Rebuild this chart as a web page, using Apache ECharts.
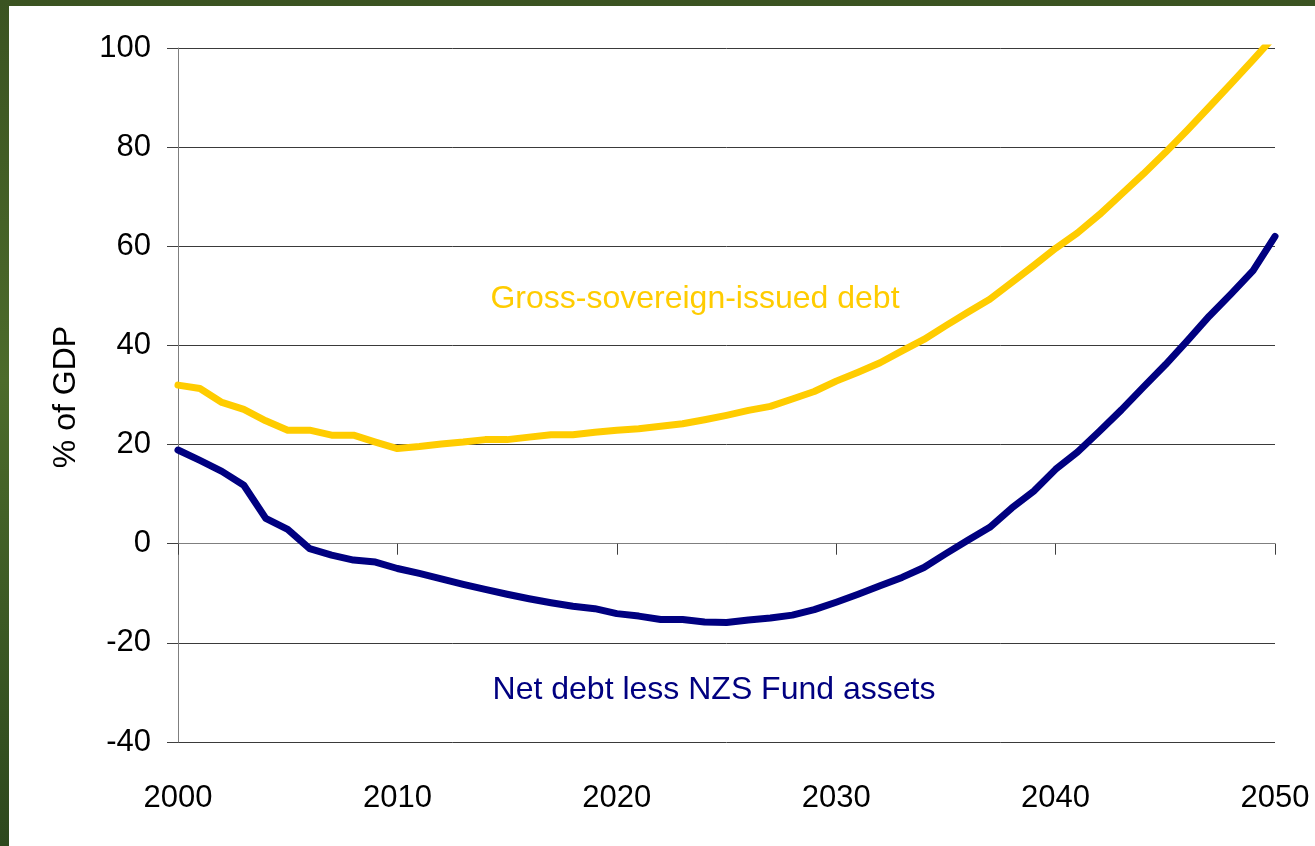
<!DOCTYPE html>
<html>
<head>
<meta charset="utf-8">
<script src="https://cdn.jsdelivr.net/npm/echarts@6/dist/echarts.min.js"></script>
<style>
  html, body { margin: 0; padding: 0; width: 1315px; height: 846px; overflow: hidden; }
  body { background: linear-gradient(to bottom, #3b5321 0%, #4c6b2b 45%, #2d481d 100%); position: relative; }
  #chart { position: absolute; left: 9px; top: 6px; width: 1306px; height: 840px; background: #ffffff; }
</style>
</head>
<body>
<div id="chart"></div>
<script>
// Projected debt paths, % of GDP, 2000-2050
const years = [];
for (let y = 2000; y <= 2050; y++) years.push(y);

const grossDebt = [
  32.0, 31.3, 28.5, 27.1, 24.8, 22.9, 22.9, 21.9, 21.9, 20.5,
  19.2, 19.6, 20.1, 20.5, 21.0, 21.0, 21.5, 22.0, 22.0, 22.5,
  22.9, 23.2, 23.7, 24.2, 25.0, 25.9, 26.9, 27.7, 29.2, 30.7,
  32.8, 34.6, 36.5, 38.9, 41.2, 44.0, 46.7, 49.3, 52.7, 56.1,
  59.6, 62.7, 66.4, 70.5, 74.6, 78.9, 83.4, 88.1, 92.8, 97.6,
  102.5
];

const netDebt = [
  18.9, 16.8, 14.6, 11.8, 5.1, 2.9, -1.0, -2.3, -3.3, -3.7,
  -5.0, -6.0, -7.1, -8.2, -9.2, -10.2, -11.1, -11.9, -12.6, -13.1,
  -14.1, -14.6, -15.3, -15.3, -15.8, -15.9, -15.4, -15.0, -14.4, -13.3,
  -11.8, -10.2, -8.5, -6.8, -4.8, -2.0, 0.7, 3.3, 7.2, 10.6,
  15.0, 18.5, 22.7, 27.0, 31.6, 36.1, 40.9, 45.9, 50.4, 55.1,
  62.0
];

const yTicks = { min: -40, max: 100, step: 20 };
const xTicks = { min: 2000, max: 2050, step: 10 };

const grossLabel = 'Gross-sovereign-issued debt';
const netLabel = 'Net debt less NZS Fund assets';
const yTitle = '% of GDP';

const FONT = '"Liberation Sans", Arial, sans-serif';

const chart = echarts.init(document.getElementById('chart'), null, { renderer: 'canvas' });

const pairs = (vals) => years.map((y, i) => [y, vals[i]]);

chart.setOption({
  animation: false,
  backgroundColor: '#ffffff',
  grid: { left: 169, right: 40, top: 42, bottom: 104, containLabel: false },
  xAxis: [
    {
      // year labels along the bottom of the plot
      type: 'value',
      min: xTicks.min, max: xTicks.max, interval: xTicks.step,
      position: 'bottom',
      axisLine: { show: false, onZero: false },
      axisTick: { show: false },
      splitLine: { show: false },
      axisLabel: { color: '#000', fontSize: 31, fontFamily: FONT, margin: 41, formatter: (v) => String(v) }
    },
    {
      // zero line with downward ticks
      type: 'value',
      min: xTicks.min, max: xTicks.max, interval: xTicks.step,
      position: 'bottom',
      axisLine: { show: true, onZero: true, lineStyle: { color: '#7f7f7f', width: 1 } },
      axisTick: { show: true, inside: false, length: 11, lineStyle: { color: '#404040', width: 1 } },
      axisLabel: { show: false },
      splitLine: { show: false }
    }
  ],
  yAxis: {
    type: 'value',
    min: yTicks.min, max: yTicks.max, interval: yTicks.step,
    axisLine: { show: true, lineStyle: { color: '#7f7f7f', width: 1 } },
    axisTick: { show: true, inside: false, length: 11, lineStyle: { color: '#404040', width: 1 } },
    axisLabel: { color: '#000', fontSize: 31, fontFamily: FONT, margin: 27 },
    splitLine: { show: true, lineStyle: { color: '#3a3a3a', width: 1 } }
  },
  series: [
    {
      name: grossLabel,
      type: 'line',
      data: pairs(grossDebt),
      symbol: 'none',
      clip: true,
      lineStyle: { color: '#ffcc00', width: 7, join: 'round', cap: 'round' },
      z: 3
    },
    {
      name: netLabel,
      type: 'line',
      data: pairs(netDebt),
      symbol: 'none',
      clip: true,
      lineStyle: { color: '#000080', width: 7, join: 'round', cap: 'round' },
      z: 4
    }
  ],
  graphic: [
    {
      type: 'text', x: 686, y: 293, z: 10,
      style: { text: grossLabel, fill: '#ffcc00', font: '32px ' + FONT, textAlign: 'center', textVerticalAlign: 'middle' }
    },
    {
      type: 'text', x: 705, y: 684, z: 10,
      style: { text: netLabel, fill: '#000080', font: '32px ' + FONT, textAlign: 'center', textVerticalAlign: 'middle' }
    },
    {
      type: 'text', x: 57, y: 391, rotation: Math.PI / 2, z: 10,
      style: { text: yTitle, fill: '#000', font: '32px ' + FONT, textAlign: 'center', textVerticalAlign: 'middle' }
    }
  ]
});
</script>
</body>
</html>
